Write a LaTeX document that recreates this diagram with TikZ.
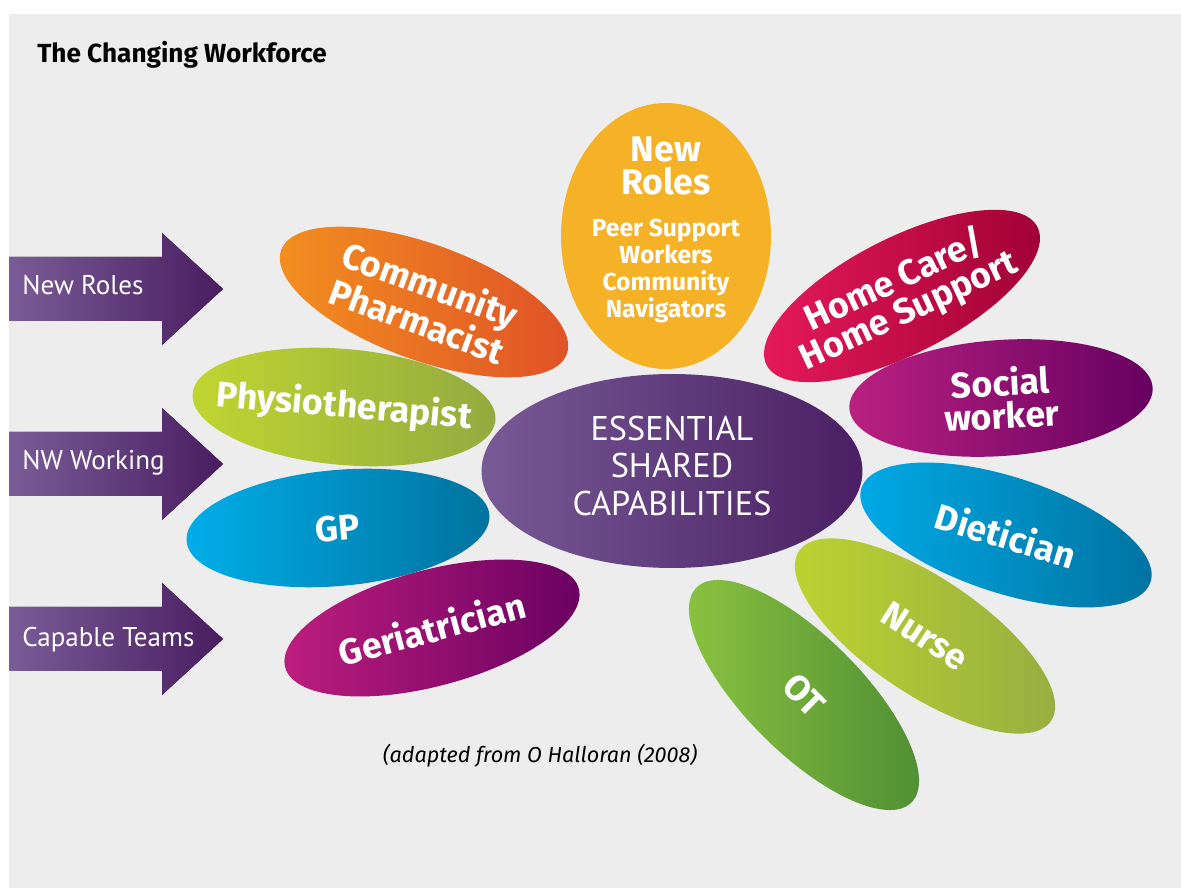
\documentclass[tikz,border=0pt]{standalone}
\usepackage{fontspec}
\setmainfont{PT Sans}
\newfontfamily\petalfont{Fira Sans}
\usetikzlibrary{shapes.geometric}

\definecolor{panelgrey}{HTML}{EDEDED}
\definecolor{arrowlight}{HTML}{7A5C98}
\definecolor{arrowdark}{HTML}{491D60}
\definecolor{coreA}{HTML}{775A96}
\definecolor{coreB}{HTML}{4A1F63}
\definecolor{newroles}{HTML}{F6B227}
\definecolor{pharmA}{HTML}{F3901F}
\definecolor{pharmB}{HTML}{DF5127}
\definecolor{physioA}{HTML}{BFD631}
\definecolor{physioB}{HTML}{94AA40}
\definecolor{gpA}{HTML}{00AEEA}
\definecolor{gpB}{HTML}{00729D}
\definecolor{geriA}{HTML}{BE1E7E}
\definecolor{geriB}{HTML}{680060}
\definecolor{homeA}{HTML}{E81A5C}
\definecolor{homeB}{HTML}{9E0035}
\definecolor{socialA}{HTML}{BA2181}
\definecolor{socialB}{HTML}{650060}
\definecolor{dietA}{HTML}{00AAE6}
\definecolor{dietB}{HTML}{0072A0}
\definecolor{nurseA}{HTML}{BDD530}
\definecolor{nurseB}{HTML}{97AC41}
\definecolor{otA}{HTML}{8DC541}
\definecolor{otB}{HTML}{4D8C33}

\begin{document}
\begin{tikzpicture}[x=0.02cm, y=-0.02cm,
					petal/.style={ellipse, minimum width=6.08cm, minimum height=2.32cm, inner sep=0pt},
					petaltext/.style={text=white, align=center, inner sep=0pt,
						font=\petalfont\bfseries\fontsize{20.3}{18.7}\selectfont},
					sidearrow/.style={left color=arrowlight, middle color=arrowlight!45!arrowdark, right color=arrowdark},
					sidetext/.style={text=white, anchor=base west, inner sep=0pt,
						font=\fontsize{15.4}{18}\selectfont}]

	\useasboundingbox (0,0) rectangle (1181,888);
	\fill[panelgrey] (9,14) rectangle (1181,888);

	\node[anchor=base west, inner sep=0pt, font=\petalfont\bfseries\fontsize{14.9}{16}\selectfont] (title) at (37,63) {The Changing Workforce};

	% arrows on the left
	\fill[sidearrow] (9,257) -- (162,257) -- (162,233) -- (223,289) -- (162,345) -- (162,321) -- (9,321) -- cycle;
	\fill[sidearrow] (9,432) -- (162,432) -- (162,408) -- (223,464) -- (162,520) -- (162,496) -- (9,496) -- cycle;
	\fill[sidearrow] (9,607) -- (162,607) -- (162,583) -- (223,639) -- (162,695) -- (162,671) -- (9,671) -- cycle;
	\node[sidetext] (newroles) at (22,295) {New Roles};
	\node[sidetext] (nwworking) at (22,470) {NW Working};
	\node[sidetext] (capteams) at (22,646) {Capable Teams};

	% petals
	\node[petal, rotate=-5, left color=physioA, right color=physioB] (physio) at (344,407) {};
	\node[petal, rotate=-20, left color=pharmA, right color=pharmB] (pharm) at (424,302) {};
	\node[petal, rotate=5, left color=gpA, right color=gpB] (gp) at (338,528) {};
	\node[petal, rotate=15, left color=geriA, right color=geriB] (geri) at (432,628) {};
	\node[petal, rotate=27, left color=homeA, right color=homeB] (home) at (902,296) {};
	\node[petal, rotate=4, left color=socialA, right color=socialB] (social) at (1001,398) {};
	\node[petal, rotate=-18, left color=dietA, right color=dietB] (diet) at (1006,535) {};
	\node[petal, rotate=-34, left color=nurseA, right color=nurseB] (nurse) at (925,636) {};
	\node[petal, rotate=-45, left color=otA, right color=otB] (ot) at (804,695) {};

	\node[petaltext, rotate=-5] at (physio) {Physiotherapist};
	\node[petaltext, rotate=-20] at (pharm) {Community\\Pharmacist};
	\node[petaltext, rotate=5] at (gp) {GP};
	\node[petaltext, rotate=15] at (geri) {Geriatrician};
	\node[petaltext, rotate=25] at (home) {Home Care/\\Home Support};
	\node[petaltext, rotate=3] at (social) {Social\\worker};
	\node[petaltext, rotate=-17] at (diet) {Dietician};
	\node[petaltext, rotate=-33] at (nurse) {Nurse};
	\node[petaltext, rotate=-45] at (ot) {OT};

	% new roles and the core
	\node[ellipse, fill=newroles, minimum width=4.2cm, minimum height=5.32cm, inner sep=0pt] (newrole) at (666,236) {};
	\node[petaltext] (newtitle) at (666,166) {New\\Roles};
	\node[petaltext, font=\petalfont\bfseries\fontsize{14}{15.5}\selectfont] (newlist) at (666,271)
		{Peer Support\\Workers\\Community\\Navigators};

	\node[ellipse, left color=coreA, right color=coreB, minimum width=7.62cm, minimum height=3.88cm, inner sep=0pt] (core) at (672,471) {};
	\node[text=white, align=center, inner sep=0pt, font=\fontsize{19.5}{21.3}\selectfont] (coretext) at (672,466)
		{ESSENTIAL\\SHARED\\CAPABILITIES};

	\node[anchor=base, inner sep=0pt, font=\petalfont\itshape\fontsize{12.3}{14}\selectfont] (source) at (540,763)
		{(adapted from O Halloran (2008)};
\end{tikzpicture}
\end{document}
